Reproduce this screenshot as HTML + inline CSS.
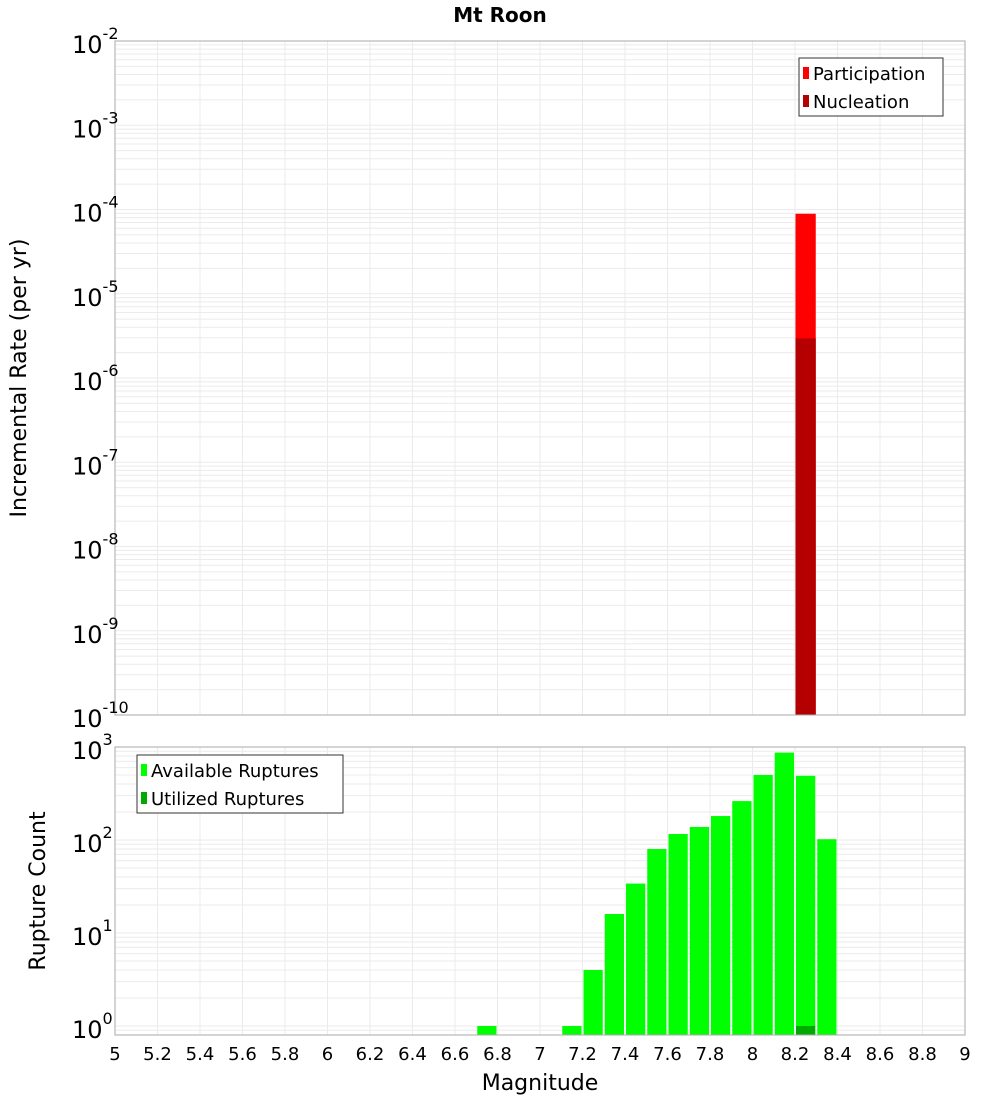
<!DOCTYPE html>
<html><head><meta charset="utf-8"><style>
html,body{margin:0;padding:0;background:#fff}
svg{display:block;font-family:"DejaVu Sans","Liberation Sans",sans-serif}
</style></head><body>
<svg id="c" width="1000" height="1100" viewBox="0 0 1000 1100" xmlns="http://www.w3.org/2000/svg">
<text x="500" y="22" text-anchor="middle" font-size="20" font-weight="bold">Mt Roon</text>
<g id="gTop"></g>
<g id="gBot"></g>
<text transform="translate(26,378) rotate(-90)" text-anchor="middle" font-size="22">Incremental Rate (per yr)</text>
<text transform="translate(45,891) rotate(-90)" text-anchor="middle" font-size="22">Rupture Count</text>
<text x="540" y="1090" text-anchor="middle" font-size="22">Magnitude</text>
</svg>
<script>
const xTicks = ["5","5.2","5.4","5.6","5.8","6","6.2","6.4","6.6","6.8","7","7.2","7.4","7.6","7.8","8","8.2","8.4","8.6","8.8","9"];
const rateMags = [8.25];
const participation = [8.9e-5];
const nucleation = [2.95e-6];
const countMags = [6.75,7.15,7.25,7.35,7.45,7.55,7.65,7.75,7.85,7.95,8.05,8.15,8.25,8.35];
const available = [1,1,4,16,34,80,116,138,181,262,500,870,490,102];
const utilizedMags = [8.25];
const utilized = [1];

const NS="http://www.w3.org/2000/svg";
const L=115,R=965;
const xs=m=>L+(m-5)/(4)*(R-L);
function el(p,t,a){const e=document.createElementNS(NS,t);for(const k in a)e.setAttribute(k,a[k]);p.appendChild(e);return e;}
const gT=document.getElementById('gTop'),gB=document.getElementById('gBot');
const yT=v=>41+(-2-Math.log10(v))*84.25;
const yB=v=>1026-Math.log10(v)*93;

function grid(g,y0,y1,dmin,dmax,yf){
  for(let d=dmin;d<dmax;d++)for(let k=1;k<10;k++){const yy=yf(k*Math.pow(10,d));if(yy<y0||yy>y1)continue;
    const l=el(g,'line',{x1:L,x2:R,y1:yy,y2:yy,stroke:'#ebebeb','stroke-width':1});
    }
  for(let i=0;i<xTicks.length;i++){const xx=xs(+xTicks[i]);
    const l=el(g,'line',{x1:xx,x2:xx,y1:y0,y2:y1,stroke:'#ebebeb','stroke-width':1});
    }
}
grid(gT,41,715,-10,-2,yT);
grid(gB,747,1035,-1,3,yB);
const bw=(R-L)/40;
rateMags.forEach((m,i)=>{
  let r=el(gT,'rect',{x:xs(m)-bw/2+0.5,width:bw-1,y:yT(participation[i]),height:715-yT(participation[i]),fill:'#ff0000'});
  
  r=el(gT,'rect',{x:xs(m)-bw/2+0.5,width:bw-1,y:yT(nucleation[i]),height:715-yT(nucleation[i]),fill:'#b40000'});
  
});
countMags.forEach((m,i)=>{
  const r=el(gB,'rect',{x:xs(m)-bw/2+1,width:bw-2,y:yB(available[i]),height:1035-yB(available[i]),fill:'#00ff00'});
  
});
utilizedMags.forEach((m,i)=>{
  const r=el(gB,'rect',{x:xs(m)-bw/2+1,width:bw-2,y:yB(utilized[i]),height:1035-yB(utilized[i]),fill:'#00aa00'});
  
});
let f=el(gT,'rect',{x:L,y:41,width:R-L,height:674,fill:'none',stroke:'#aaa'});

f=el(gB,'rect',{x:L,y:747,width:R-L,height:288,fill:'none',stroke:'#aaa'});

function ylab(g,yy,exp){const t=el(g,'text',{x:72,y:yy+12,'font-size':24});
  
  t.textContent='10';const s=el(t,'tspan',{dy:-14,'font-size':16});s.textContent=exp;}
for(let d=-2;d>=-10;d--)ylab(gT,yT(Math.pow(10,d)),String(d));
for(let d=0;d<=3;d++)ylab(gB,yB(Math.pow(10,d)),String(d));
xTicks.forEach(s=>{const t=el(gB,'text',{x:xs(+s),y:1060,'text-anchor':'middle','font-size':18});
  t.textContent=s;});
function legend(g,x0,y0,w,items,nm){const b=el(g,'rect',{x:x0,y:y0,width:w,height:58,fill:'#fff',stroke:'#333'});
  
  items.forEach((it,i)=>{const yy=y0+15+i*28;
    const s=el(g,'rect',{x:x0+4,y:yy-6,width:6,height:12,fill:it[1]});
    const t=el(g,'text',{x:x0+14,y:yy+7,'font-size':18});t.textContent=it[0];});}
legend(gT,799,58,144,[["Participation","#ff0000"],["Nucleation","#b40000"]],'rate-legend');
legend(gB,137,755,206,[["Available Ruptures","#00ff00"],["Utilized Ruptures","#00aa00"]],'count-legend');
</script>
</body></html>
